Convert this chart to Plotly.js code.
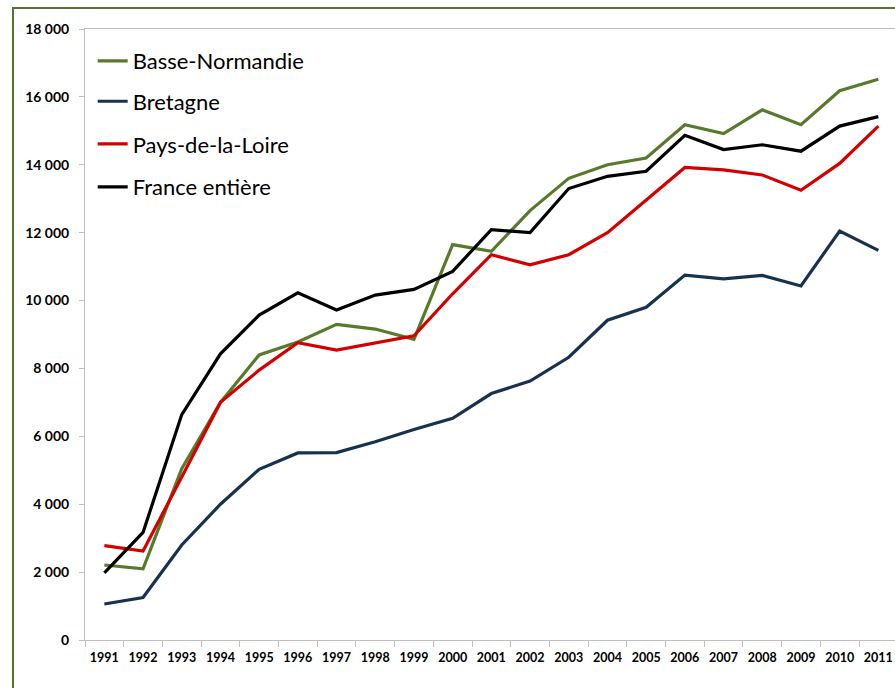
<!DOCTYPE html>
<html>
<head>
<meta charset="utf-8">
<script src="https://cdn.plot.ly/plotly-3.0.1.min.js"></script>
<style>
  html, body { margin: 0; padding: 0; background: #ffffff; overflow: hidden; }
  #frame { position: absolute; left: 12px; top: 7px; width: 1000px; height: 800px;
           border-left: 2px solid #5a7230; border-top: 2px solid #5a7230; }
  #chart { position: absolute; left: 0; top: 0; width: 895px; height: 688px; }
</style>
</head>
<body>
<div id="frame"></div>
<div id="chart"></div>
<script>
const years = ["1991","1992","1993","1994","1995","1996","1997","1998","1999","2000","2001","2002","2003","2004","2005","2006","2007","2008","2009","2010","2011"];
const basseNormandie = [2210, 2100, 5050, 7000, 8400, 8780, 9300, 9160, 8860, 11650, 11450, 12650, 13600, 14000, 14200, 15180, 14920, 15620, 15180, 16180, 16520];
const bretagne = [1060, 1250, 2800, 4000, 5030, 5510, 5520, 5840, 6200, 6530, 7260, 7630, 8330, 9420, 9800, 10750, 10640, 10740, 10430, 12050, 11480];
const paysDeLaLoire = [2780, 2620, 4800, 7000, 7950, 8760, 8540, 8740, 8960, 10200, 11350, 11050, 11350, 12000, 12950, 13920, 13850, 13700, 13250, 14040, 15140];
const franceEntiere = [1980, 3170, 6640, 8430, 9570, 10230, 9720, 10160, 10330, 10860, 12090, 12000, 13300, 13660, 13810, 14870, 14450, 14590, 14400, 15140, 15420];

const names = ["Basse-Normandie", "Bretagne", "Pays-de-la-Loire", "France entière"];
const colors = ["#587a2c", "#17324f", "#d40000", "#000000"];
const series = [basseNormandie, bretagne, paysDeLaLoire, franceEntiere];
const legendIds = ["legend", "legend2", "legend3", "legend4"];
const legendY = [0.9476, 0.8814, 0.8115, 0.7414];

const traces = series.map((vals, i) => ({
  type: "scatter",
  mode: "lines",
  x: years,
  y: vals,
  name: names[i],
  legend: legendIds[i],
  line: { color: colors[i], width: 3.2 },
  hoverinfo: "x+y+name"
}));

const fontFam = "Lato, 'Open Sans', sans-serif";
const layout = {
  width: 895,
  height: 688,
  margin: { l: 85, r: 0, t: 29, b: 48 },
  paper_bgcolor: "rgba(0,0,0,0)",
  plot_bgcolor: "rgba(0,0,0,0)",
  separators: ", ",
  font: { family: fontFam, color: "#000000" },
  xaxis: {
    type: "category",
    range: [-0.5, 20.43],
    tickson: "boundaries",
    ticks: "outside",
    ticklen: 6,
    tickcolor: "#bfbfbf",
    showline: true,
    linecolor: "#bfbfbf",
    linewidth: 1,
    mirror: true,
    showgrid: false,
    zeroline: false,
    ticklabelstandoff: 6,
    tickfont: { family: fontFam, size: 12.5, color: "#000000", weight: "bold" }
  },
  yaxis: {
    range: [0, 18000],
    dtick: 2000,
    tick0: 0,
    tickformat: ",.0f",
    ticks: "outside",
    ticklen: 5,
    tickcolor: "#bfbfbf",
    showline: true,
    linecolor: "#bfbfbf",
    linewidth: 1,
    showgrid: false,
    zeroline: false,
    ticklabelstandoff: 7,
    tickfont: { family: fontFam, size: 14, color: "#000000", weight: "bold" }
  },
  showlegend: true
};

legendIds.forEach((id, i) => {
  layout[id] = {
    x: 0.0095,
    xanchor: "left",
    y: legendY[i],
    yanchor: "middle",
    bgcolor: "rgba(0,0,0,0)",
    borderwidth: 0,
    font: { family: fontFam, size: 22, color: "#000000" }
  };
});

Plotly.newPlot("chart", traces, layout, { displayModeBar: false, staticPlot: true });
</script>
</body>
</html>
